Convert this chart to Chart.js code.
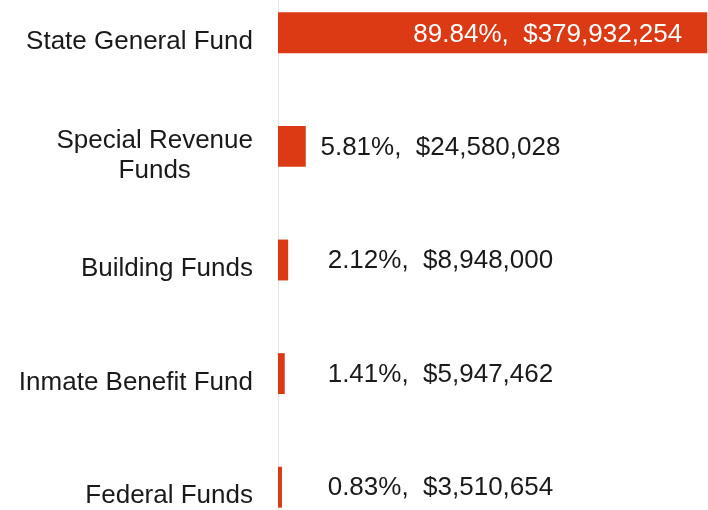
<!DOCTYPE html>
<html>
<head>
<meta charset="utf-8">
<script src="https://cdn.jsdelivr.net/npm/chart.js@4.4.0/dist/chart.umd.min.js"></script>
<style>
  html, body { margin: 0; padding: 0; background: #fff; overflow: hidden; }
  #wrap { position: relative; width: 708px; height: 510px; overflow: hidden; }
  #chart { position: absolute; left: 0; top: -24px; }
</style>
</head>
<body>
<div id="wrap">
  <canvas id="chart" width="708" height="568"></canvas>
</div>
<script>
// fund categories, share of total (%) and dollar amounts
const categories = [
  "State General Fund",
  ["Special Revenue", "Funds"],
  "Building Funds",
  "Inmate Benefit Fund",
  "Federal Funds"
];
const percents = [89.84, 5.81, 2.12, 1.41, 0.83];
const amounts = [379932254, 24580028, 8948000, 5947462, 3510654];

const barColor = "#dc3a14";
const textColor = "#1a1a1a";
const fontFamily = "'Liberation Sans', Arial, sans-serif";
const font = "26px " + fontFamily;

// category labels: right aligned block, lines centred inside the block
const categoryLabels = {
  id: "categoryLabels",
  afterDraw(chart) {
    const ctx = chart.ctx;
    const yScale = chart.scales.y;
    const right = chart.chartArea.left - 25;
    const lineH = 30;
    ctx.save();
    ctx.font = font;
    ctx.fillStyle = textColor;
    ctx.textAlign = "center";
    ctx.textBaseline = "middle";
    categories.forEach((label, i) => {
      const lines = Array.isArray(label) ? label : [label];
      const blockW = Math.max(...lines.map((l) => ctx.measureText(l).width));
      const cy = yScale.getPixelForTick(i) + 9;
      const top = cy - ((lines.length - 1) * lineH) / 2;
      lines.forEach((l, j) => {
        ctx.fillText(l, right - blockW / 2, top + j * lineH);
      });
    });
    ctx.restore();
  }
};

// draws "pct%,  $amount" next to / inside each bar
const valueLabels = {
  id: "valueLabels",
  afterDatasetsDraw(chart) {
    const ctx = chart.ctx;
    const xScale = chart.scales.x;
    const meta = chart.getDatasetMeta(0);
    ctx.save();
    ctx.font = font;
    ctx.textBaseline = "middle";
    meta.data.forEach((bar, i) => {
      const text = percents[i].toFixed(2) + "%,  $" + amounts[i].toLocaleString("en-US");
      const w = ctx.measureText(text).width;
      if (bar.x - bar.base > w + 40) {
        ctx.fillStyle = "#ffffff";
        ctx.textAlign = "right";
        ctx.fillText(text, bar.x - 25, bar.y + 2);
      } else {
        ctx.fillStyle = textColor;
        ctx.textAlign = "center";
        ctx.fillText(text, xScale.getPixelForValue(34), bar.y + 1);
      }
    });
    ctx.restore();
  }
};

new Chart(document.getElementById("chart"), {
  type: "bar",
  data: {
    labels: categories,
    datasets: [{
      data: percents,
      backgroundColor: barColor,
      borderWidth: 0,
      barPercentage: 0.36,
      categoryPercentage: 1
    }]
  },
  options: {
    indexAxis: "y",
    responsive: false,
    animation: false,
    devicePixelRatio: 1,
    layout: { padding: 0 },
    plugins: {
      legend: { display: false },
      tooltip: { enabled: false }
    },
    scales: {
      x: {
        display: false,
        min: 0,
        max: 90
      },
      y: {
        afterFit(scale) {
          scale.width = 278;
          scale.paddingTop = 0;
          scale.paddingBottom = 0;
        },
        grid: { display: false, drawTicks: false },
        border: { display: true, color: "#e4e4e4", width: 1 },
        ticks: { display: false }
      }
    }
  },
  plugins: [valueLabels, categoryLabels]
});
</script>
</body>
</html>
